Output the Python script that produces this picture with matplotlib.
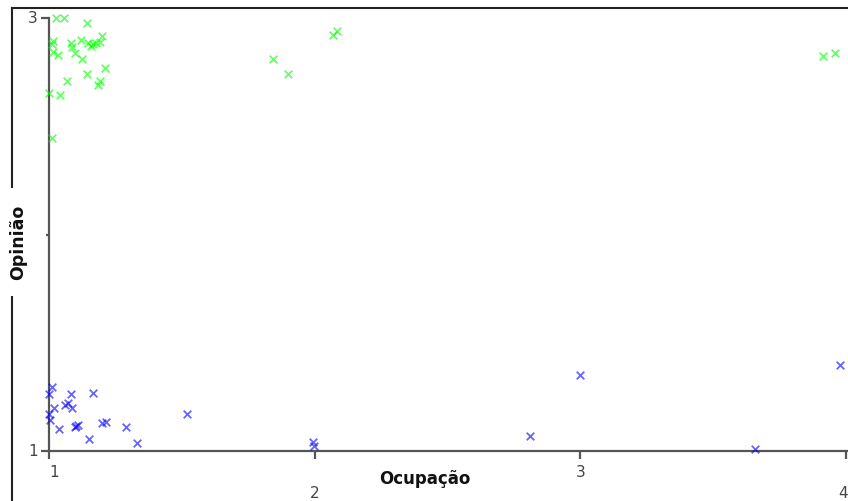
import matplotlib
matplotlib.use("Agg")
import matplotlib.pyplot as plt
from matplotlib.lines import Line2D
import matplotlib.transforms as mtransforms

# Data (Ocupação, Opinião)
green_x = [1.026, 1.056, 1.143, 1.015, 1.011, 1.083, 1.087, 1.120, 1.147, 1.166,
           1.192, 1.199, 1.015, 1.034, 1.098, 1.124, 1.211, 1.143, 1.068, 1.192,
           1.184, 1.000, 1.041, 1.011, 1.158, 1.177,
           1.843, 1.899, 2.068, 2.084, 3.912, 3.957]
green_y = [3.000, 3.000, 2.977, 2.894, 2.880, 2.885, 2.866, 2.898, 2.885, 2.880,
           2.889, 2.917, 2.843, 2.829, 2.838, 2.811, 2.769, 2.741, 2.709, 2.709,
           2.691, 2.654, 2.644, 2.446, 2.871, 2.885,
           2.811, 2.741, 2.921, 2.940, 2.824, 2.838]

blue_x = [1.011, 1.000, 1.083, 1.166, 1.060, 1.071, 1.019, 1.087, 1.000, 1.004,
          1.038, 1.098, 1.109, 1.102, 1.199, 1.214, 1.290, 1.150, 1.331, 1.519,
          1.993, 1.997, 2.810, 2.998, 3.656, 3.976]
blue_y = [1.296, 1.263, 1.263, 1.268, 1.212, 1.222, 1.199, 1.199, 1.171, 1.143,
          1.102, 1.111, 1.120, 1.115, 1.129, 1.134, 1.111, 1.055, 1.037, 1.171,
          1.042, 1.023, 1.069, 1.351, 1.009, 1.397]

x_ticks = [1, 2, 3, 4]
x_tick_labels = ["1", "2", "3", "4"]
y_ticks = [1, 2, 3]
y_tick_labels = ["1", "", "3"]

W, H = 848, 501
fig = plt.figure(figsize=(W / 100, H / 100), dpi=100)
fig.patch.set_facecolor("white")

# axes: x=1 at px 49, x=4 at px 846 ; y=3 at px 18, y=1 at px 451
px_per_unit = (846 - 49) / 3.0
x_right = 1 + (W - 49) / px_per_unit
ax = fig.add_axes([49 / W, (H - 451) / H, (W - 49) / W, (451 - 18) / H])
ax.set_xlim(1, x_right)
ax.set_ylim(1, 3)

ax.scatter(green_x, green_y, marker="x", s=30, linewidths=1.3,
           color="#00ff00", alpha=0.6, clip_on=False, zorder=3)
ax.scatter(blue_x, blue_y, marker="x", s=30, linewidths=1.3,
           color="#0000ff", alpha=0.6, clip_on=False, zorder=3)

for s in ["top", "right"]:
    ax.spines[s].set_visible(False)
for s in ["left", "bottom"]:
    ax.spines[s].set_color("#555555")
    ax.spines[s].set_linewidth(1.6)

ax.set_xticks(x_ticks)
ax.set_yticks(y_ticks)
ax.tick_params(axis="both", direction="out", length=6, width=1.6, color="#555555",
               labelbottom=False, labelleft=False)
# make middle y tick very small
ax.yaxis.get_major_ticks()[1].tick1line.set_markersize(2)

tick_col = "#444444"
xtr = ax.get_xaxis_transform()
for i, (xv, lab) in enumerate(zip(x_ticks, x_tick_labels)):
    drop = 14 if i % 2 == 0 else 35
    ha = "center"
    dx = 0
    if i == 0:
        ha = "left"
    elif i == len(x_ticks) - 1:
        ha = "right"
        dx = 2
    off = mtransforms.ScaledTranslation(dx / 100, -drop / 100, fig.dpi_scale_trans)
    ax.text(xv, 0, lab, transform=xtr + off, ha=ha, va="top",
            fontsize=11, color=tick_col)

ytr = ax.get_yaxis_transform()
for yv, lab in zip(y_ticks, y_tick_labels):
    if not lab:
        continue
    off = mtransforms.ScaledTranslation(-11 / 100, 0, fig.dpi_scale_trans)
    ax.text(0, yv, lab, transform=ytr + off, ha="right", va="center",
            fontsize=11, color=tick_col)

# outer frame
fig.add_artist(Line2D([12 / W, 12 / W], [0, 1 - 8 / H], transform=fig.transFigure,
                      color="#222222", linewidth=1.5, zorder=0))
fig.add_artist(Line2D([12 / W, 1], [1 - 8 / H, 1 - 8 / H], transform=fig.transFigure,
                      color="#222222", linewidth=1.5, zorder=0))

# axis titles
fig.text(425 / W, 1 - 479 / H, "Ocupação", ha="center", va="center",
         fontsize=12, fontweight="bold", color="#111111")
fig.text(18 / W, 1 - 242 / H, "Opinião", ha="center", va="center", rotation=90,
         fontsize=12.5, fontweight="bold", color="#111111",
         bbox=dict(facecolor="white", edgecolor="none", pad=12), zorder=5)

fig.savefig("out.png", dpi=100, facecolor="white")
